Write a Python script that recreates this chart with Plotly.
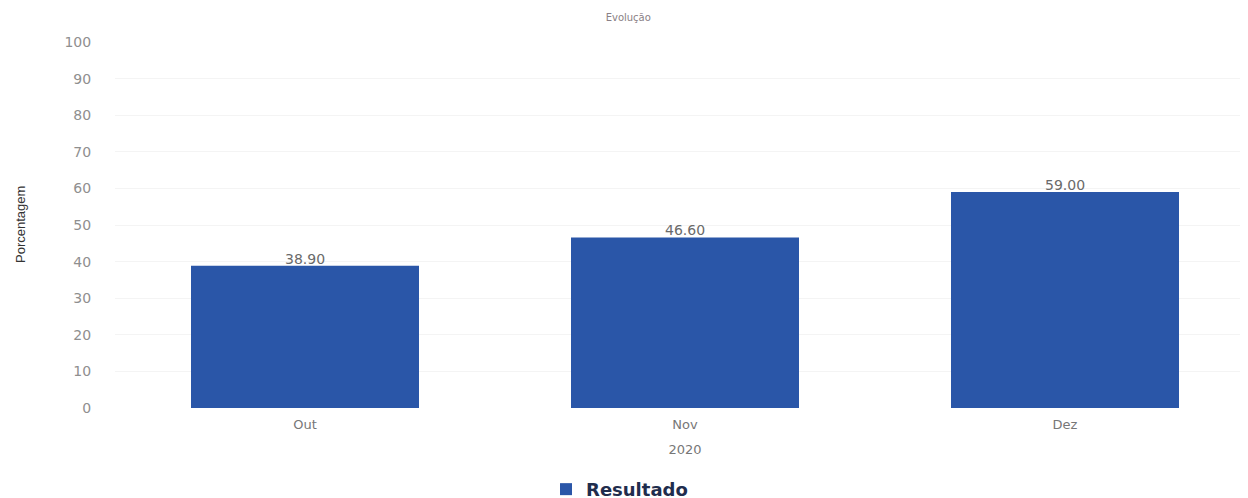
import plotly.graph_objects as go

categories = ["Out", "Nov", "Dez"]
values = [38.90, 46.60, 59.00]
value_labels = ["38.90", "46.60", "59.00"]
y_ticks = [0, 10, 20, 30, 40, 50, 60, 70, 80, 90, 100]

fig = go.Figure()
fig.add_trace(go.Bar(
    x=categories, y=values, name="<b>Resultado</b>",
    marker=dict(color="#2A56A8", line=dict(width=0)),
))

for cat, val, lab in zip(categories, values, value_labels):
    fig.add_annotation(x=cat, y=val, text=lab, showarrow=False,
                       yanchor="bottom", yshift=-3,
                       font=dict(family="DejaVu Sans", size=14, color="#6a6a6a"))

# y-axis title
fig.add_annotation(xref="paper", yref="paper", x=0, y=0.5, text="Porcentagem",
                   textangle=-90, showarrow=False, xanchor="center", yanchor="middle",
                   xshift=-95,
                   font=dict(family="Liberation Sans Narrow, Liberation Sans", size=13, color="#333333"))

# page body adds an 8px offset; margins compensate
fig.update_layout(
    width=1248, height=498,
    margin=dict(l=107, r=1, t=34, b=98, autoexpand=False),
    paper_bgcolor="white", plot_bgcolor="white",
    bargap=0.4,
    title=dict(text="Evolução", x=0.497, xanchor="center", y=0.98, yanchor="middle",
               font=dict(family="DejaVu Sans", size=10, color="#8a7f86")),
    showlegend=True,
    legend=dict(orientation="h", xref="container", x=0.49, xanchor="center",
                yref="paper", y=-0.172, yanchor="top",
                font=dict(family="DejaVu Sans", size=18, color="#1f2d4d"),
                itemsizing="constant"),
    xaxis=dict(
        title=dict(text="2020", standoff=14, font=dict(family="DejaVu Sans", size=13, color="#777777")),
        tickfont=dict(family="DejaVu Sans", size=13, color="#777777"),
        showgrid=False, showline=False, ticks="outside", ticklen=4, tickcolor="rgba(0,0,0,0)",
    ),
    yaxis=dict(
        range=[0, 100], tickvals=y_ticks, ticks="outside", ticklen=20, tickcolor="rgba(0,0,0,0)",
        tickfont=dict(family="DejaVu Sans", size=14, color="#8f8f8f"),
        showgrid=True, gridcolor="#f4f4f4", zeroline=False, showline=False,
    ),
)

fig.write_html("out.html")
